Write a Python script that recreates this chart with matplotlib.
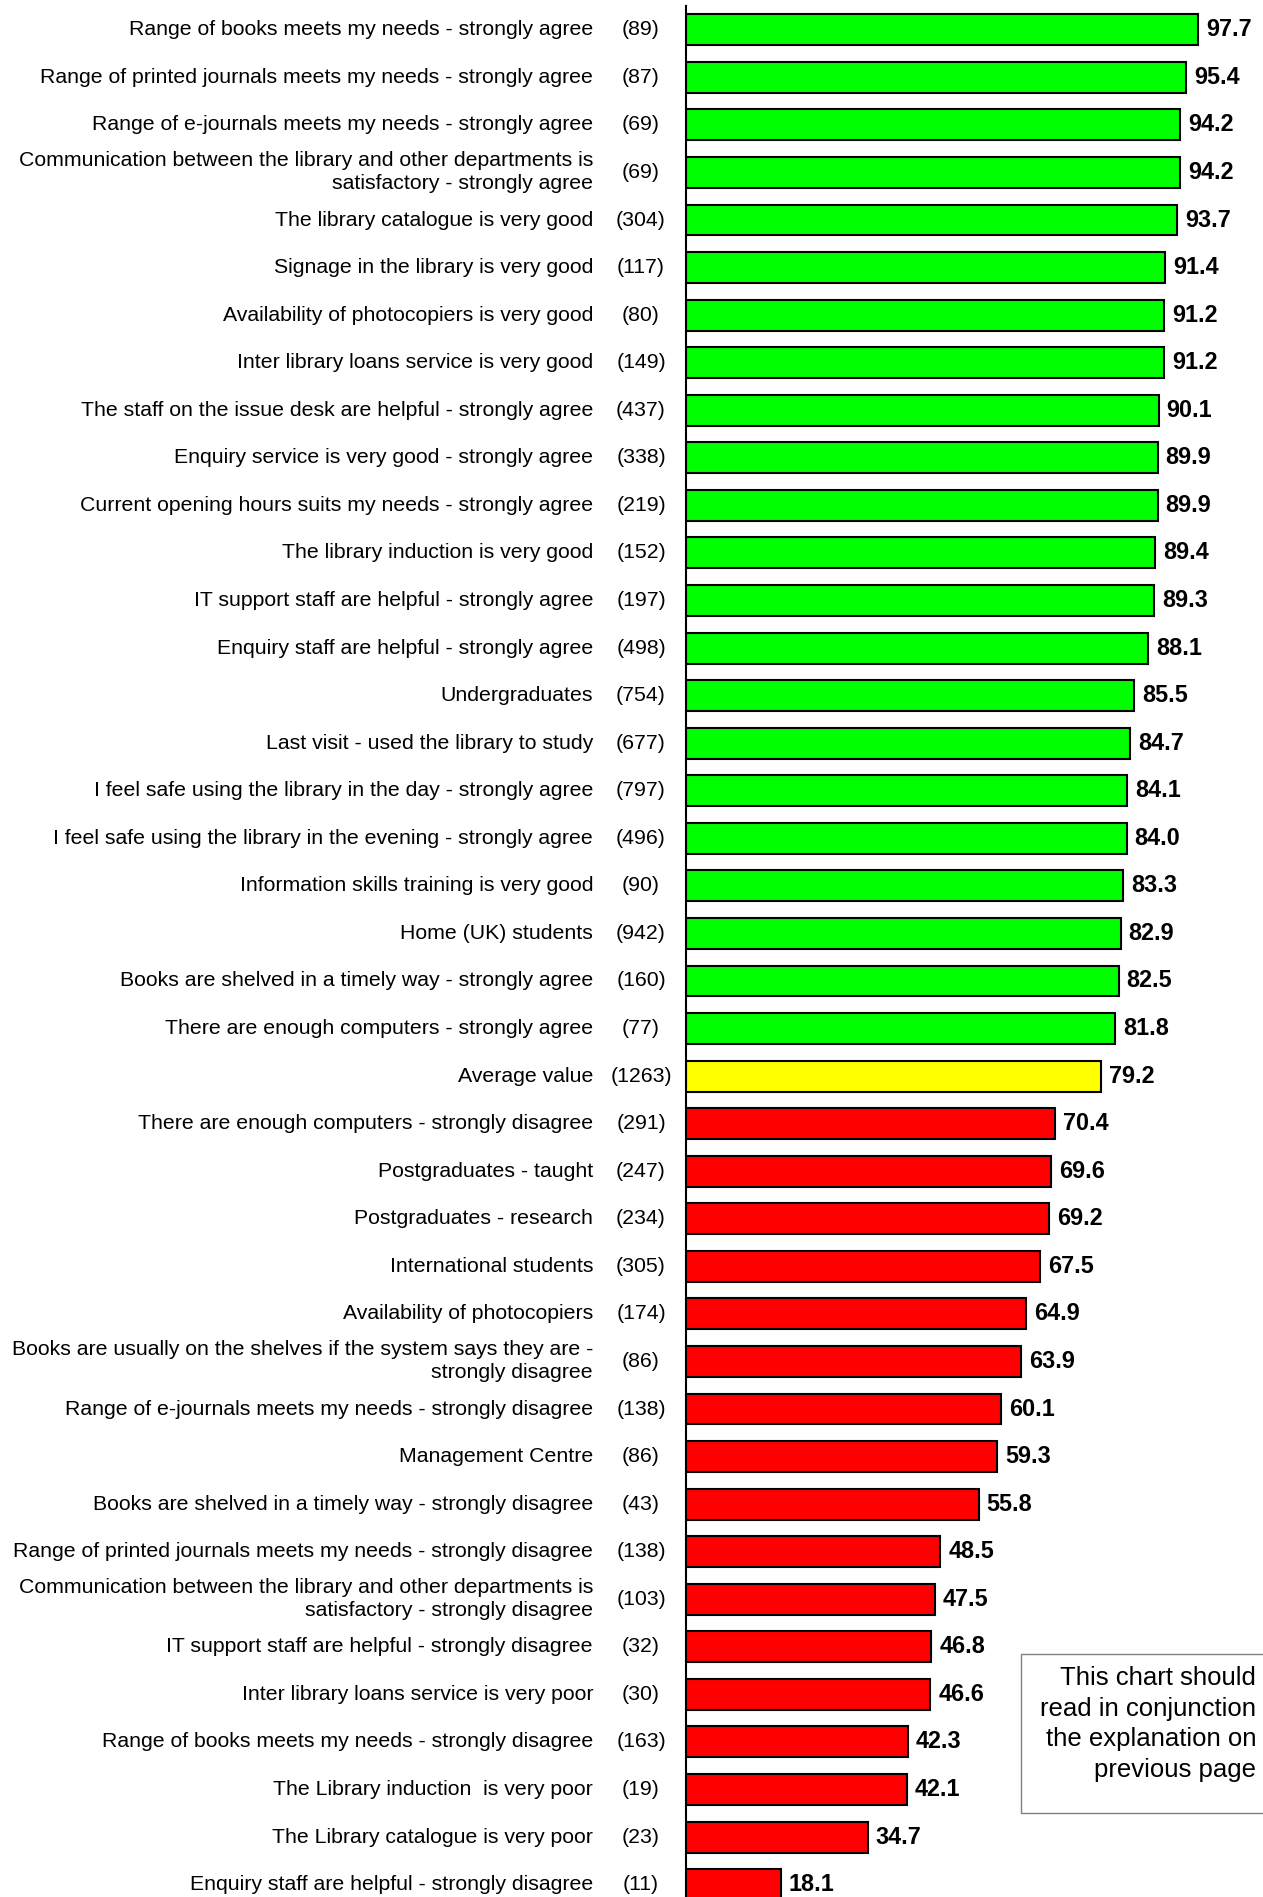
import matplotlib

matplotlib.use("Agg")
import matplotlib.pyplot as plt
from matplotlib.transforms import blended_transform_factory

plt.rcParams["font.family"] = ["Liberation Sans", "DejaVu Sans"]

LABELS = [
    "Range of books meets my needs - strongly agree",
    "Range of printed journals meets my needs - strongly agree",
    "Range of e-journals meets my needs - strongly agree",
    "Communication between the library and other departments is\nsatisfactory - strongly agree",
    "The library catalogue is very good",
    "Signage in the library is very good",
    "Availability of photocopiers is very good",
    "Inter library loans service is very good",
    "The staff on the issue desk are helpful - strongly agree",
    "Enquiry service is very good - strongly agree",
    "Current opening hours suits my needs - strongly agree",
    "The library induction is very good",
    "IT support staff are helpful - strongly agree",
    "Enquiry staff are helpful - strongly agree",
    "Undergraduates",
    "Last visit - used the library to study",
    "I feel safe using the library in the day - strongly agree",
    "I feel safe using the library in the evening - strongly agree",
    "Information skills training is very good",
    "Home (UK) students",
    "Books are shelved in a timely way - strongly agree",
    "There are enough computers - strongly agree",
    "Average value",
    "There are enough computers - strongly disagree",
    "Postgraduates - taught",
    "Postgraduates - research",
    "International students",
    "Availability of photocopiers",
    "Books are usually on the shelves if the system says they are -\nstrongly disagree",
    "Range of e-journals meets my needs - strongly disagree",
    "Management Centre",
    "Books are shelved in a timely way - strongly disagree",
    "Range of printed journals meets my needs - strongly disagree",
    "Communication between the library and other departments is\nsatisfactory - strongly disagree",
    "IT support staff are helpful - strongly disagree",
    "Inter library loans service is very poor",
    "Range of books meets my needs - strongly disagree",
    "The Library induction  is very poor",
    "The Library catalogue is very poor",
    "Enquiry staff are helpful - strongly disagree",
]
COUNTS = [89, 87, 69, 69, 304, 117, 80, 149, 437, 338, 219, 152, 197, 498, 754, 677,
          797, 496, 90, 942, 160, 77, 1263, 291, 247, 234, 305, 174, 86, 138, 86, 43,
          138, 103, 32, 30, 163, 19, 23, 11]
VALUES = [97.7, 95.4, 94.2, 94.2, 93.7, 91.4, 91.2, 91.2, 90.1, 89.9, 89.9, 89.4, 89.3,
          88.1, 85.5, 84.7, 84.1, 84.0, 83.3, 82.9, 82.5, 81.8, 79.2, 70.4, 69.6, 69.2,
          67.5, 64.9, 63.9, 60.1, 59.3, 55.8, 48.5, 47.5, 46.8, 46.6, 42.3, 42.1, 34.7,
          18.1]
AVERAGE = 79.2
NOTE = "This chart should\nread in conjunction\nthe explanation on\nprevious page"


def bar_color(v):
    if v > AVERAGE:
        return "#00ff00"
    if v == AVERAGE:
        return "#ffff00"
    return "#ff0000"


W, H = 1263, 1897
fig = plt.figure(figsize=(W / 100, H / 100), dpi=100)
# axes: left edge = axis line, 40 rows of ~47.6px
top = 6
pitch = 47.56
n = len(VALUES)
ax = fig.add_axes([686 / W, 1 - (top + n * pitch) / H, 1 - 686 / W, n * pitch / H])

y = list(range(n))
ax.barh(y, VALUES, height=0.65, color=[bar_color(v) for v in VALUES],
        edgecolor="black", linewidth=1.5)
ax.set_xlim(0, 110)
ax.set_ylim(n - 0.5, -0.5)
for s in ("top", "right", "bottom"):
    ax.spines[s].set_visible(False)
ax.spines["left"].set_linewidth(1.5)
ax.set_xticks([])
ax.set_yticks([])

for yi, v in zip(y, VALUES):
    ax.text(v + 1.5, yi, f"{v:.1f}", ha="left", va="center",
            fontsize=16.8, fontweight="bold")

tr = blended_transform_factory(fig.transFigure, ax.transData)
for yi, lab, c in zip(y, LABELS, COUNTS):
    ax.text(593 / W, yi, lab, ha="right", va="center", fontsize=15.3,
            transform=tr, linespacing=1.27, clip_on=False)
    ax.text(641 / W, yi, f"({c})", ha="center", va="center", fontsize=15.3,
            transform=tr, clip_on=False)

box = plt.Rectangle((1021 / W, 1 - 1813 / H), 1 - 1021 / W + 0.01, (1813 - 1654) / H,
                    transform=fig.transFigure, fill=False, edgecolor="#808080",
                    linewidth=1.0)
fig.add_artist(box)
fig.text(1256 / W, 1 - 1724 / H, NOTE, ha="right", va="center", fontsize=18.5,
         linespacing=1.36)

fig.savefig("out.png", dpi=100)
